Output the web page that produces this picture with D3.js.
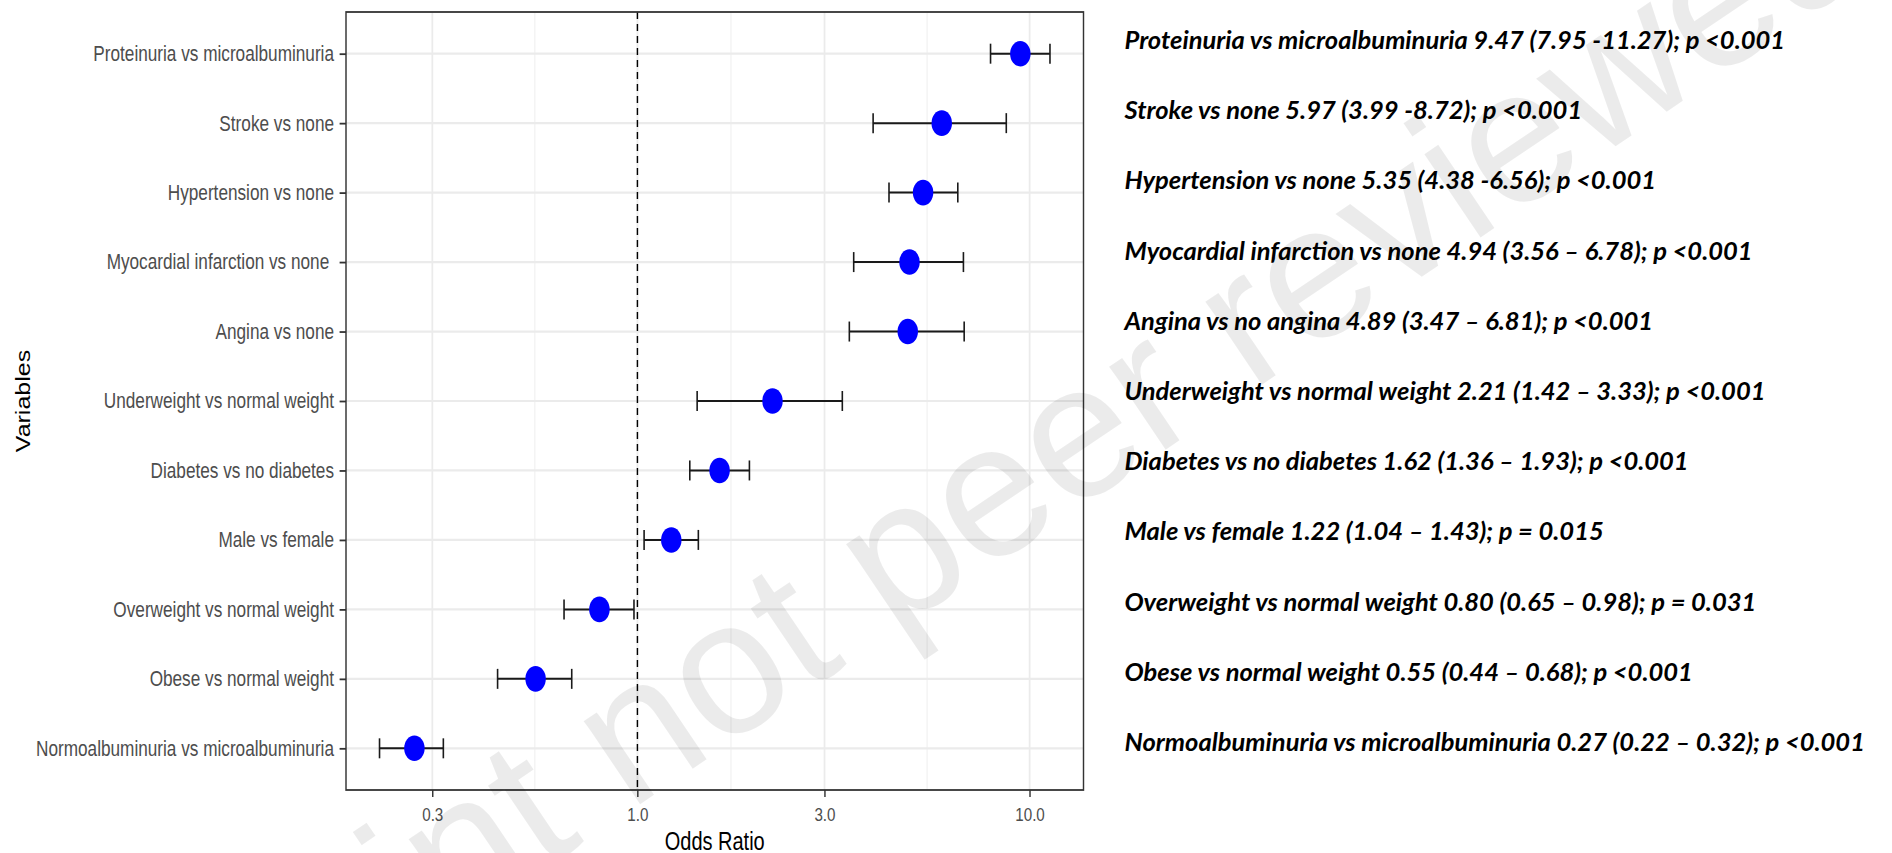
<!DOCTYPE html>
<html>
<head>
<meta charset="utf-8">
<script src="https://cdn.jsdelivr.net/npm/d3@7"></script>
<style>
  body { margin: 0; background: #fff; }
  svg { display: block; }
</style>
</head>
<body>
<script>
// odds ratios with 95% CI, top row first
var categories = [
    "Proteinuria vs microalbuminuria",
    "Stroke vs none",
    "Hypertension vs none",
    "Myocardial infarction vs none ",
    "Angina vs none",
    "Underweight vs normal weight",
    "Diabetes vs no diabetes",
    "Male vs female",
    "Overweight vs normal weight",
    "Obese vs normal weight",
    "Normoalbuminuria vs microalbuminuria"
];
var oddsRatio = [9.47, 5.97, 5.35, 4.94, 4.89, 2.21, 1.62, 1.22, 0.80, 0.55, 0.27];
var ciLower = [7.95, 3.99, 4.38, 3.56, 3.47, 1.42, 1.36, 1.04, 0.65, 0.44, 0.22];
var ciUpper = [11.27, 8.72, 6.56, 6.78, 6.81, 3.33, 1.93, 1.43, 0.98, 0.68, 0.32];
var notes = [
    "Proteinuria vs microalbuminuria 9.47 (7.95 -11.27); p <0.001",
    "Stroke vs none 5.97 (3.99 -8.72); p <0.001",
    "Hypertension vs none 5.35 (4.38 -6.56); p <0.001",
    "Myocardial infarction vs none 4.94 (3.56 \u2013 6.78); p <0.001",
    "Angina vs no angina 4.89 (3.47 \u2013 6.81); p <0.001",
    "Underweight vs normal weight 2.21 (1.42 \u2013 3.33); p <0.001",
    "Diabetes vs no diabetes 1.62 (1.36 \u2013 1.93); p <0.001",
    "Male vs female 1.22 (1.04 \u2013 1.43); p = 0.015",
    "Overweight vs normal weight 0.80 (0.65 \u2013 0.98); p = 0.031",
    "Obese vs normal weight 0.55 (0.44 \u2013 0.68); p <0.001",
    "Normoalbuminuria vs microalbuminuria 0.27 (0.22 \u2013 0.32); p <0.001"
];
var xTicks = [0.3, 1, 3, 10];

var width = 1892, height = 853;
// the original plot image is squeezed horizontally
var squeeze = 0.8;
var panel = { left: 346 / squeeze, right: 1083.5 / squeeze, top: 12, bottom: 790 };
var font = "'Liberation Sans', Arial, sans-serif";

var svg = d3.select("body").append("svg")
    .attr("width", width)
    .attr("height", height);

svg.append("rect").attr("width", width).attr("height", height).attr("fill", "#fff");

var g = svg.append("g").attr("transform", "scale(" + squeeze + ",1)");

// log scale with ggplot-like 5% expansion
var lo = Math.log10(d3.min(ciLower)), hi = Math.log10(d3.max(ciUpper));
var pad = (hi - lo) * 0.05;
var x = d3.scaleLog()
    .domain([Math.pow(10, lo - pad), Math.pow(10, hi + pad)])
    .range([panel.left, panel.right]);

var y = d3.scalePoint()
    .domain(categories)
    .range([panel.top, panel.bottom])
    .padding(0.6);

var minorTicks = d3.pairs(xTicks, function (a, b) { return Math.sqrt(a * b); });

// grid
g.selectAll(".minor").data(minorTicks).join("line")
    .attr("x1", x).attr("x2", x)
    .attr("y1", panel.top).attr("y2", panel.bottom)
    .attr("stroke", "#EBEBEB").attr("stroke-width", 1.1);

g.selectAll(".major-x").data(xTicks).join("line")
    .attr("x1", x).attr("x2", x)
    .attr("y1", panel.top).attr("y2", panel.bottom)
    .attr("stroke", "#EBEBEB").attr("stroke-width", 2.2);

g.selectAll(".major-y").data(categories).join("line")
    .attr("x1", panel.left).attr("x2", panel.right)
    .attr("y1", y).attr("y2", y)
    .attr("stroke", "#EBEBEB").attr("stroke-width", 2.2);

// reference line at OR = 1
g.append("line")
    .attr("x1", x(1)).attr("x2", x(1))
    .attr("y1", panel.top).attr("y2", panel.bottom)
    .attr("stroke", "#000").attr("stroke-width", 1.8)
    .attr("stroke-dasharray", "7,5");

// error bars
var rows = categories.map(function (c, i) {
    return { cat: c, or: oddsRatio[i], lo: ciLower[i], hi: ciUpper[i] };
});
var capH = 10;

var bars = g.selectAll(".bar").data(rows).join("g");
bars.append("line")
    .attr("x1", function (d) { return x(d.lo); })
    .attr("x2", function (d) { return x(d.hi); })
    .attr("y1", function (d) { return y(d.cat); })
    .attr("y2", function (d) { return y(d.cat); })
    .attr("stroke", "#1a1a1a").attr("stroke-width", 2);
bars.selectAll(".cap").data(function (d) { return [[d.lo, d.cat], [d.hi, d.cat]]; }).join("line")
    .attr("x1", function (d) { return x(d[0]); })
    .attr("x2", function (d) { return x(d[0]); })
    .attr("y1", function (d) { return y(d[1]) - capH; })
    .attr("y2", function (d) { return y(d[1]) + capH; })
    .attr("stroke", "#1a1a1a").attr("stroke-width", 2);

g.selectAll(".pt").data(rows).join("circle")
    .attr("cx", function (d) { return x(d.or); })
    .attr("cy", function (d) { return y(d.cat); })
    .attr("r", 12.8)
    .attr("fill", "#0000FF");

// panel border
g.append("rect")
    .attr("x", panel.left).attr("y", panel.top)
    .attr("width", panel.right - panel.left)
    .attr("height", panel.bottom - panel.top)
    .attr("fill", "none").attr("stroke", "#333").attr("stroke-width", 1.8);

// axes
var yAxis = g.append("g")
    .attr("transform", "translate(" + panel.left + ",0)")
    .call(d3.axisLeft(y).tickSize(8).tickPadding(7))
    .attr("font-family", font).attr("font-size", 21.5);
yAxis.select(".domain").remove();
yAxis.selectAll("line").attr("stroke", "#333").attr("stroke-width", 1.8);
yAxis.selectAll("text").attr("fill", "#4D4D4D").style("white-space", "pre");

var xAxis = g.append("g")
    .attr("transform", "translate(0," + panel.bottom + ")")
    .call(d3.axisBottom(x).tickValues(xTicks).tickFormat(d3.format(".1f")).tickSize(7).tickPadding(11))
    .attr("font-family", font).attr("font-size", 19);
xAxis.select(".domain").remove();
xAxis.selectAll("line").attr("stroke", "#333").attr("stroke-width", 1.8);
xAxis.selectAll("text").attr("fill", "#4D4D4D");

g.append("text")
    .attr("x", (panel.left + panel.right) / 2)
    .attr("y", 850)
    .attr("text-anchor", "middle")
    .attr("font-family", font).attr("font-size", 25)
    .attr("fill", "#000")
    .text("Odds Ratio");

g.append("text")
    .attr("transform", "translate(" + (30 / squeeze) + "," + ((panel.top + panel.bottom) / 2) + ")rotate(-90)")
    .attr("text-anchor", "middle")
    .attr("font-family", font).attr("font-size", 25)
    .attr("fill", "#000")
    .text("Variables");

// annotations on the right
var yNote = d3.scalePoint().domain(categories).range([49, 751]);
var noteText = svg.append("g")
    .attr("font-family", "Lato, 'Liberation Sans', sans-serif")
    .attr("font-weight", "bold")
    .attr("font-style", "italic")
    .attr("font-size", 24)
    .attr("fill", "#000");
noteText.selectAll("text").data(notes).join("text")
    .attr("x", 1124.5)
    .attr("y", function (d, i) { return yNote(categories[i]); })
    .text(function (d) { return d; });
// fit the first line to its width in the picture
var w0 = noteText.select("text").node().getComputedTextLength();
noteText.attr("font-size", 24 * 661 / w0);

// watermark
svg.append("text")
    .attr("transform", "translate(34,1213)rotate(-34)")
    .attr("font-family", font).attr("font-size", 190)
    .attr("fill", "#000").attr("fill-opacity", 0.08)
    .text("Preprint not peer reviewed");
</script>
</body>
</html>
